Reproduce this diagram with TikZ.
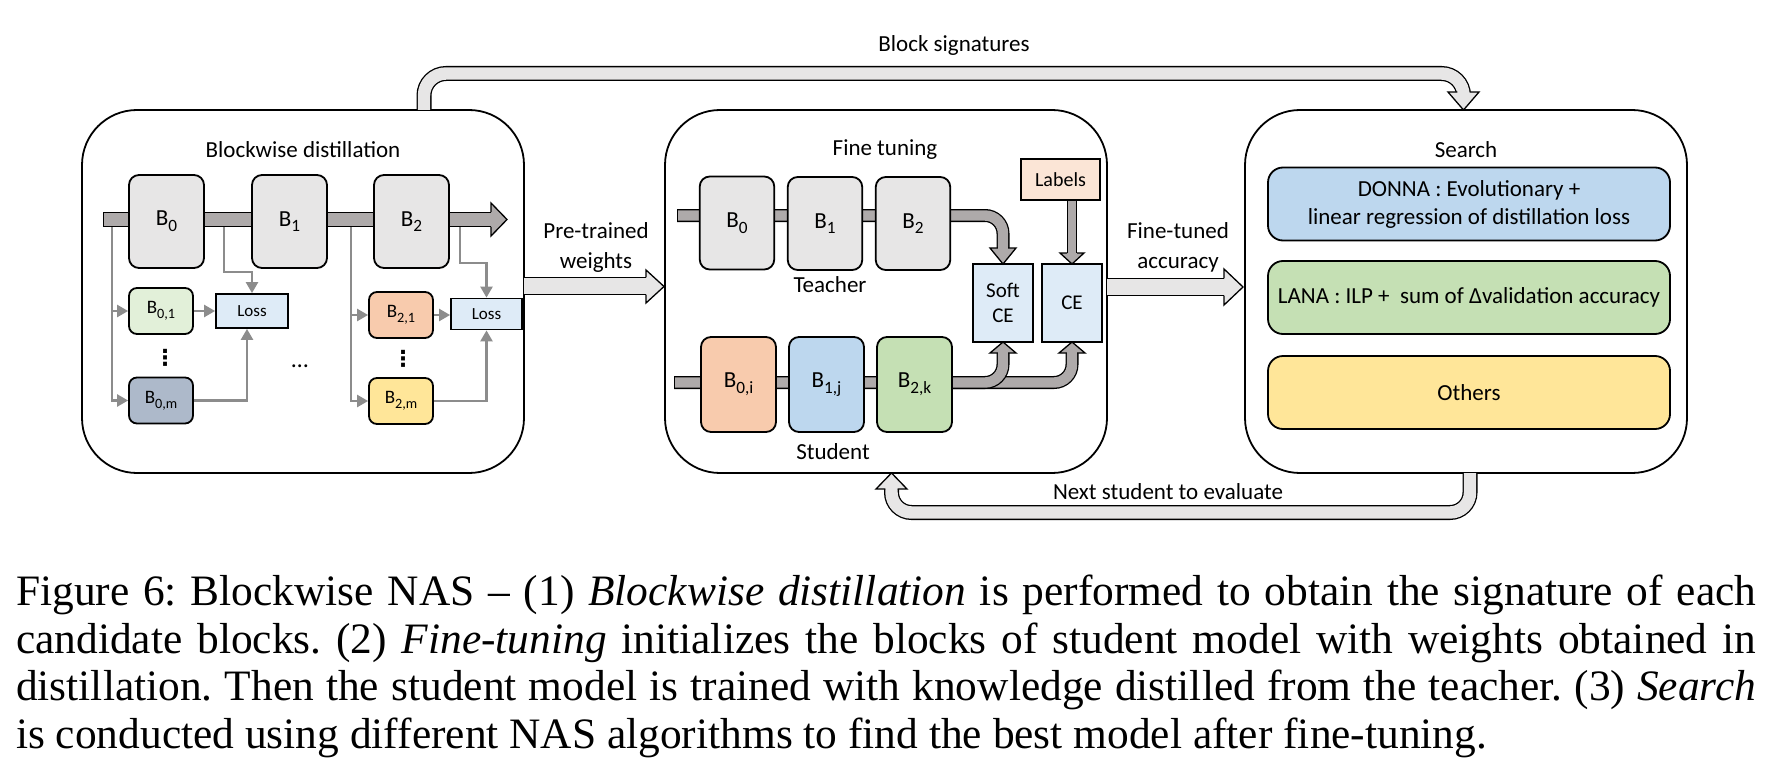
\documentclass[tikz,border=0pt]{standalone}
\usepackage{fontspec}
\setmainfont{Carlito}
\newfontfamily\capfont{Liberation Serif}
\newfontfamily\symfont{DejaVu Sans}
\usetikzlibrary{arrows.meta}
\definecolor{blkgray}{HTML}{E7E6E6}
\definecolor{shaftdark}{HTML}{AEAAAA}
\definecolor{shaftlight}{HTML}{E7E6E6}
\definecolor{cgreen}{HTML}{E2F0D9}
\definecolor{cslate}{HTML}{ADB9CA}
\definecolor{cpeach}{HTML}{F8CBAD}
\definecolor{cyellow}{HTML}{FFE699}
\definecolor{cblue}{HTML}{DEEBF7}
\definecolor{cmblue}{HTML}{BDD7EE}
\definecolor{cmgreen}{HTML}{C5E0B4}
\definecolor{clabel}{HTML}{FBE5D6}
\definecolor{conncol}{HTML}{8C8C8C}
\newcommand\lsub[1]{\raisebox{-0.25em}{\scalebox{0.75}{#1}}}
\newcommand\ahead[6]{\filldraw[fill=#1,draw=black,line width=1.3pt,line join=miter] #2 -- #3 -- #4 -- #5 -- #6;}
\tikzset{
  panel/.style={draw,line width=1.8pt,rounded corners=55pt,fill=white,minimum width=442pt,minimum height=363pt,inner sep=0pt},
  ttl/.style={font=\fontsize{23}{30}\selectfont,inner sep=0pt,align=center},
  blk/.style={draw,line width=1.8pt,rounded corners=10pt,fill=blkgray,minimum width=75pt,minimum height=93pt,inner sep=0pt,font=\fontsize{23}{28}\selectfont},
  sblk/.style={draw,line width=1.8pt,rounded corners=8pt,minimum width=64pt,minimum height=46pt,inner sep=0pt,font=\fontsize{19}{22}\selectfont},
  lossbox/.style={draw,line width=1.8pt,fill=cblue,minimum width=72pt,minimum height=34pt,inner sep=0pt,font=\fontsize{17}{20}\selectfont},
  sbox/.style={draw,line width=1.8pt,rounded corners=15pt,minimum width=402pt,minimum height=73pt,inner sep=0pt,align=center,font=\fontsize{23}{28}\selectfont},
  conn/.style={draw=conncol,line width=2.4pt,-{Triangle[length=11pt,width=12pt]}},
  shaftD/.style={draw=black,line width=1.3pt,double=shaftdark,double distance=#1,rounded corners=18pt},
  shaftL/.style={draw=black,line width=1.3pt,double=shaftlight,double distance=#1},
  capline/.style={anchor=base west,inner sep=0pt,font=\capfont\fontsize{43.4}{48}\selectfont\frenchspacing},
  vdot/.style={inner sep=0pt,font=\symfont\bfseries\fontsize{22}{22}\selectfont},
}
\begin{document}
\begin{tikzpicture}[x=1pt,y=-1pt]
\useasboundingbox (0,0) rectangle (1787,778);

% ---------- panels ----------
\node[panel] (P1) at (303,291.5) {};
\node[panel] (P2) at (886,291.5) {};
\node[panel] (P3) at (1466,291.5) {};
\node[ttl] (T1) at (303,150) {Blockwise distillation};
\node[ttl] (T2) at (885,150) {Fine tuning};
\node[ttl] (T3) at (1466,150) {Search};

% ---------- panel 1 ----------
\coordinate (m0) at (103,219.5);
\coordinate (m1) at (491,219.5);
\draw[shaftD=12.4pt] (m0) -- (m1);
\draw[line width=1.3pt] (103.6,212) -- (103.6,227);
\ahead{shaftdark}{(491,212.2)}{(491,203)}{(507,219.5)}{(491,236)}{(491,226.8)}
\node[blk] (a0) at (166.5,221.5) {B\lsub{0}};
\node[blk] (a1) at (289.5,221.5) {B\lsub{1}};
\node[blk] (a2) at (411.5,221.5) {B\lsub{2}};
\node[sblk,fill=cgreen] (a01) at (161,311) {B\lsub{0,1}};
\node[sblk,fill=cslate] (a0m) at (161,400.5) {B\lsub{0,m}};
\node[lossbox] (L1) at (252,311) {Loss};
\node[sblk,fill=cpeach] (a21) at (401,315) {B\lsub{2,1}};
\node[sblk,fill=cyellow] (a2m) at (401,401) {B\lsub{2,m}};
\node[lossbox,minimum width=71pt,minimum height=31pt] (L2) at (486.5,314) {Loss};
\node[vdot] (d1) at (165,358) {⋮};
\node[vdot] (d2) at (403,359) {⋮};
\node[inner sep=0pt,font=\fontsize{24}{24}\selectfont] (d3) at (300,366) {…};
\coordinate (t0) at (112,227);
\coordinate (t1) at (224,227);
\coordinate (t2) at (351,227);
\coordinate (t3) at (460,227);
\draw[conn] (t0) |- (a01.west);
\draw[conn] (t0) |- (a0m.west);
\draw[conn] (a01.east) -- (a01.east -| L1.west);
\draw[conn] (t1) -- (224,272) -| (L1.north);
\draw[conn] (a0m.east) -| ([xshift=-5pt]L1.south);
\draw[conn] (t2) |- (a21.west);
\draw[conn] (t2) |- (a2m.west);
\draw[conn] (a21.east) -- (a21.east -| L2.west);
\draw[conn] (t3) -- (460,263) -| (L2.north);
\draw[conn] (a2m.east) -| (L2.south);

% ---------- pre-trained weights ----------
\coordinate (pw0) at (524,286);
\coordinate (pw1) at (646,286);
\draw[shaftL=15.4pt] (pw0) -- (pw1);
\ahead{shaftlight}{(646,277.3)}{(646,270)}{(664,286.5)}{(646,303)}{(646,294.7)}
\node[ttl] (PW) at (596,247) {Pre-trained\\weights};

% ---------- panel 2 ----------
\node[draw,line width=1.8pt,fill=clabel,minimum width=79pt,minimum height=41pt,inner sep=0pt,font=\fontsize{20}{24}\selectfont] (lab) at (1060.5,179.5) {Labels};
\node[lossbox,minimum width=59.5pt,minimum height=78pt,align=center,font=\fontsize{21}{25}\selectfont] (sce) at (1003,303) {Soft\\CE};
\node[lossbox,minimum width=60pt,minimum height=78pt,font=\fontsize{21}{25}\selectfont] (ce) at (1072,303) {CE};

\coordinate (te0) at (677,215.5);
\coordinate (te1) at (1003,248);
\draw[shaftD=10.4pt] (te0) -- (1003,215.5) -- (te1);
\draw[line width=1.3pt] (677.6,209.3) -- (677.6,221.7);
\ahead{shaftdark}{(997.8,248)}{(990,248)}{(1003,264)}{(1016,248)}{(1008.2,248)}

\coordinate (lb1) at (1072,253);
\draw[shaftD=8pt] (lab.south -| ce.north) -- (lb1);
\ahead{shaftdark}{(1067,253)}{(1060,253)}{(1072,264)}{(1084,253)}{(1077,253)}

\coordinate (st0) at (674,382.5);
\coordinate (st1) at (952,382.5);
\coordinate (st2) at (1072,353);
\coordinate (st3) at (1003,353);
\draw[shaftD=10.4pt] (st1) -- (1072,382.5) -- (st2);
\draw[shaftD=10.4pt] (st0) -- (1003,382.5) -- (st3);
\draw[line width=1.3pt] (674.6,376.3) -- (674.6,388.7);
\ahead{shaftdark}{(1066.8,353)}{(1059,353)}{(1072,342)}{(1085,353)}{(1077.2,353)}
\ahead{shaftdark}{(997.8,353)}{(990,353)}{(1003,342)}{(1016,353)}{(1008.2,353)}

\node[blk,minimum width=74.5pt] (b0) at (737,223) {B\lsub{0}};
\node[blk,minimum width=74.5pt] (b1) at (825,223.5) {B\lsub{1}};
\node[blk,minimum width=74.5pt] (b2) at (913,223.5) {B\lsub{2}};
\node[ttl] (teach) at (830,285) {Teacher};
\node[blk,fill=cpeach,minimum height=95pt] (c0) at (738.5,384.5) {B\lsub{0,i}};
\node[blk,fill=cmblue,minimum height=95pt] (c1) at (826.5,384.5) {B\lsub{1,j}};
\node[blk,fill=cmgreen,minimum height=95pt] (c2) at (914.5,384.5) {B\lsub{2,k}};
\node[ttl] (stud) at (833,452) {Student};

% ---------- fine-tuned accuracy ----------
\coordinate (fa0) at (1107,287);
\coordinate (fa1) at (1224,287);
\draw[shaftL=15.4pt] (fa0) -- (fa1);
\ahead{shaftlight}{(1224,278.3)}{(1224,269)}{(1243,287)}{(1224,305)}{(1224,295.7)}
\node[ttl] (FA) at (1178,247) {Fine-tuned\\accuracy};

% ---------- panel 3 ----------
\node[sbox,fill=cmblue] (s1) at (1469,204) {DONNA : Evolutionary +\\linear regression of distillation loss};
\node[sbox,fill=cmgreen] (s2) at (1469,297.5) {LANA : ILP +\ \ sum of Δvalidation accuracy};
\node[sbox,fill=cyellow] (s3) at (1469,392.5) {Others};

% ---------- block signatures ----------
\coordinate (bs0) at (424,110);
\coordinate (bs1) at (1463.5,92);
\draw[shaftL=12.4pt,rounded corners=22pt] (bs0) -- (424,73.5) -- (1463.5,73.5) -- (bs1);
\ahead{shaftlight}{(1457.3,92)}{(1448,92)}{(1463.5,110)}{(1479,92)}{(1469.7,92)}
\node[ttl] (BS) at (954,45) {Block signatures};

% ---------- next student ----------
\coordinate (ns0) at (1470,473);
\coordinate (ns1) at (891.5,489);
\draw[shaftL=12.4pt,rounded corners=20pt] (ns0) -- (1470,512.5) -- (891.5,512.5) -- (ns1);
\ahead{shaftlight}{(885.3,489)}{(876,489)}{(891.5,473)}{(907,489)}{(897.7,489)}
\node[ttl] (NS) at (1168,492) {Next student to evaluate};

% ---------- caption ----------
\node[capline] (cap1) at (16,605) {\makebox[1740pt][s]{Figure 6: Blockwise NAS – (1) \textit{Blockwise distillation} is performed to obtain the signature of each}};
\node[capline] (cap2) at (16,653) {\makebox[1740pt][s]{candidate blocks. (2) \textit{Fine-tuning} initializes the blocks of student model with weights obtained in}};
\node[capline] (cap3) at (16,700.5) {\makebox[1740pt][s]{distillation. Then the student model is trained with knowledge distilled from the teacher. (3) \textit{Search}}};
\node[capline] (cap4) at (16,748) {is conducted using different NAS algorithms to find the best model after fine-tuning.};
\end{tikzpicture}
\end{document}
